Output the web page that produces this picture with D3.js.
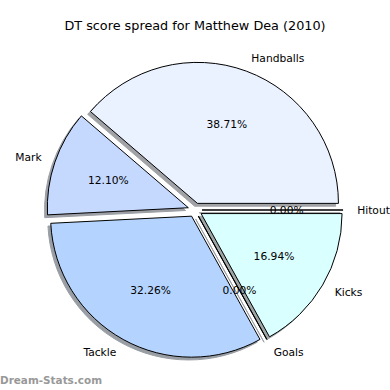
<!DOCTYPE html>
<html><head><meta charset="utf-8">
<script src="https://cdn.jsdelivr.net/npm/d3@7"></script>
<style>body{margin:0;background:#fff}svg{display:block}text{font-family:"DejaVu Sans",sans-serif}</style>
</head><body><svg id="c" width="390" height="390"></svg>
<script>
const title = "DT score spread for Matthew Dea (2010)";
const categories = ["Handballs","Mark","Tackle","Goals","Kicks","Hitout"];
const values = [48, 15, 40, 0, 21, 0];
const colors = ["#eaf1ff","#c5d9ff","#b4d4ff","#c0e0ff","#d9ffff","#e0f0ff"];
const watermark = "Dream-Stats.com";

const W=390,H=390, cx=195, cy=210, R=141, explode=0.05;
const svg=d3.select("#c");
svg.append("rect").attr("width",W).attr("height",H).attr("fill","#fff");
const total=d3.sum(values);
const pie=d3.pie().sort(null).startAngle(Math.PI/2).endAngle(Math.PI/2-2*Math.PI);
const arcs=pie(values);
const arc=d3.arc().innerRadius(0).outerRadius(R);
const g=svg.append("g").attr("transform",`translate(${cx},${cy})`);
function mid(d){return (d.startAngle+d.endAngle)/2;}
function off(d,k){const a=mid(d);return [k*Math.sin(a),-k*Math.cos(a)];}
const shadowColor=c=>{const r=d3.rgb(c);return d3.rgb(r.r*0.3,r.g*0.3,r.b*0.3).toString();};
// shadows
const sh=g.append("g").attr("transform","translate(-2.8,2.8)");
arcs.forEach((d,i)=>{const o=off(d,explode*R);
  sh.append("path").attr("d",arc(d)).attr("transform",`translate(${o[0]},${o[1]})`)
   .attr("fill",shadowColor(colors[i])).attr("stroke",shadowColor(colors[i])).attr("stroke-width",1)
   .attr("opacity",0.5).attr("stroke-linejoin","miter");});
arcs.forEach((d,i)=>{const o=off(d,explode*R);
  g.append("path").attr("d",arc(d)).attr("transform",`translate(${o[0]},${o[1]})`)
   .attr("fill",colors[i]).attr("stroke","#000").attr("stroke-width",1).attr("stroke-linejoin","miter");});
arcs.forEach((d,i)=>{const o=off(d,explode*R);const a=mid(d);
  const lx=o[0]+1.1*R*Math.sin(a), ly=o[1]-1.1*R*Math.cos(a);
  g.append("text").attr("x",lx).attr("y",ly).attr("dy","0.36em")
   .attr("text-anchor",lx>=0?"start":"end").attr("font-size","10.7px").attr("fill","#000").text(categories[i]);
  const px=o[0]+0.6*R*Math.sin(a), py=o[1]-0.6*R*Math.cos(a);
  g.append("text").attr("x",px).attr("y",py).attr("dy","0.36em").attr("text-anchor","middle")
   .attr("font-size","10.7px").attr("fill","#000").text((values[i]/total*100).toFixed(2)+"%");
});
svg.append("text").attr("x",195).attr("y",29.5).attr("text-anchor","middle").attr("font-size","12.8px").attr("fill","#000").text(title);
svg.append("text").attr("x",0).attr("y",384).attr("font-size","11px").attr("font-weight","bold").attr("fill","#999")
  .attr("textLength",102).attr("lengthAdjust","spacingAndGlyphs").text(watermark);
</script></body></html>
